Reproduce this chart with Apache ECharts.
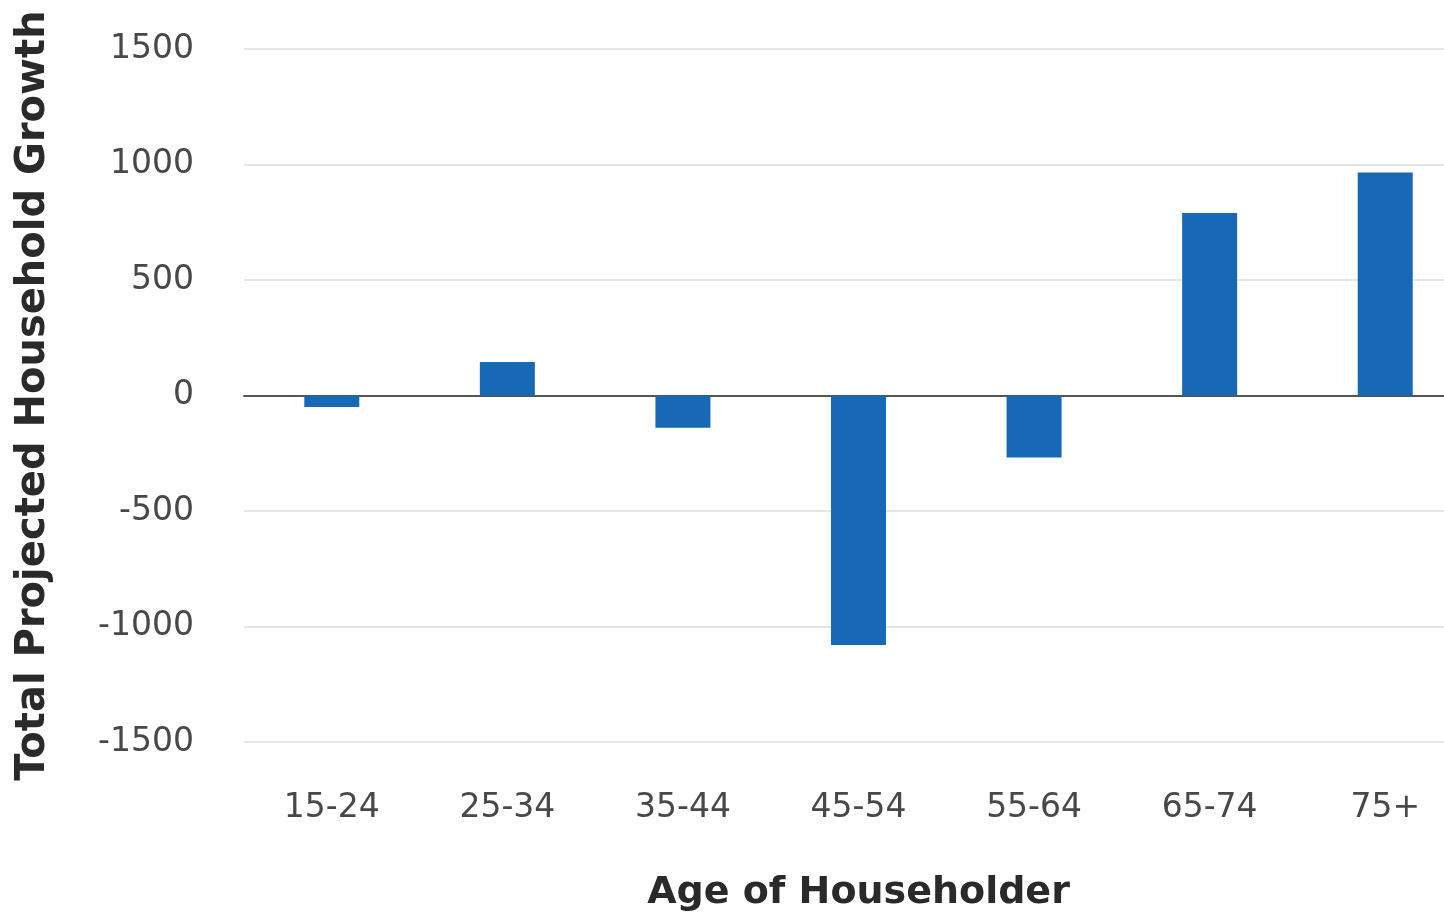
<!DOCTYPE html>
<html>
<head>
<meta charset="utf-8">
<script src="https://cdn.jsdelivr.net/npm/echarts@6/dist/echarts.min.js"></script>
<style>html,body{margin:0;padding:0;background:#fff;overflow:hidden}#c{width:1473px;height:919px}</style>
</head>
<body>
<div id="c"></div>
<script>
const categories = ['15-24', '25-34', '35-44', '45-54', '55-64', '65-74', '75+'];
const growth = [-50, 145, -140, -1080, -268, 790, 965];
const yTicks = { min: -1500, max: 1500, interval: 500 };
const xTitle = 'Age of Householder';
const yTitle = 'Total Projected Household Growth';

const chart = echarts.init(document.getElementById('c'));
chart.setOption({
  backgroundColor: '#fff',
  animation: false,
  grid: { left: 244, top: 49, right: 0, height: 693 },
  xAxis: {
    type: 'category',
    data: categories,
    name: xTitle,
    nameLocation: 'middle',
    nameGap: 132,
    nameTextStyle: { fontFamily: 'DejaVu Sans', fontWeight: 'bold', fontSize: 38, color: '#2a2a2a' },
    axisLine: { onZero: true, lineStyle: { color: '#555', width: 2 } },
    axisTick: { show: false },
    axisLabel: { margin: 50, fontFamily: 'DejaVu Sans', fontSize: 33, color: '#484848' }
  },
  yAxis: {
    type: 'value',
    min: yTicks.min, max: yTicks.max, interval: yTicks.interval,
    name: yTitle,
    nameLocation: 'middle',
    nameGap: 190,
    nameTextStyle: { fontFamily: 'DejaVu Sans', fontWeight: 'bold', fontSize: 40, color: '#2a2a2a' },
    axisLine: { show: false },
    axisTick: { show: false },
    axisLabel: { margin: 50, fontFamily: 'DejaVu Sans', fontSize: 33, color: '#484848', formatter: v => String(v) },
    splitLine: { lineStyle: { color: '#e6e6e6', width: 2 } }
  },
  series: [{
    type: 'bar',
    data: growth,
    barWidth: 55,
    itemStyle: { color: '#1769b5' }
  }]
});
</script>
</body>
</html>
